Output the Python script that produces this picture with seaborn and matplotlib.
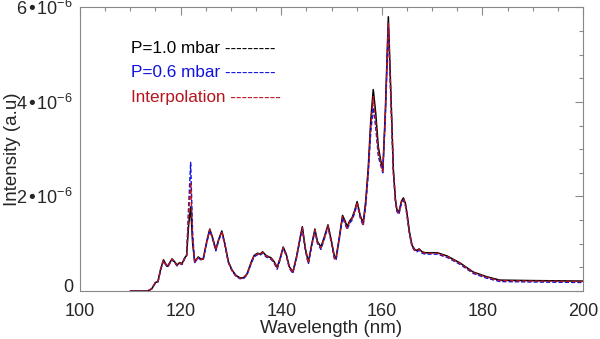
"""
Espectro VUV: intensidad vs longitud de onda para dos presiones
y la interpolación entre ellas.
"""

import matplotlib
matplotlib.use("Agg")
import matplotlib.pyplot as plt
import matplotlib.transforms as mtrans
import seaborn as sns
from matplotlib.ticker import MultipleLocator

# ── Datos (intensidad en unidades de 1e-6) ─────────────────────
wavelength = [
    110.0, 113.5, 114.3, 115.0, 115.5, 116.0, 116.6, 117.0, 117.4, 118.3,
    118.8, 119.3, 119.8, 120.3, 120.8, 121.2, 121.6, 122.0, 122.4, 122.8,
    123.5, 124.0, 124.5, 125.2, 125.8, 126.3, 127.0, 127.6, 128.2, 128.8,
    129.5, 130.2, 131.0, 131.8, 132.5, 133.2, 134.0, 134.6, 135.3, 135.8,
    136.3, 137.0, 138.0, 138.6, 139.2, 139.8, 140.4, 141.0, 141.6, 142.3,
    143.0, 143.8, 144.2, 144.8, 145.4, 146.0, 146.7, 147.2, 147.9, 148.6,
    149.3, 150.0, 150.6, 150.9, 151.5, 152.2, 152.7, 153.1, 153.6, 154.1,
    154.6, 155.1, 155.7, 156.3, 156.8, 157.3, 157.8, 158.3, 158.8, 159.3,
    159.8, 160.2, 160.7, 161.3, 161.8, 162.3, 162.7, 163.0, 163.4, 163.9,
    164.3, 164.7, 165.0, 165.5, 166.0, 166.6, 167.0, 167.4, 168.0, 168.6,
    171.0, 173.0, 175.6, 178.2, 180.9, 183.5, 190.0, 200.0,
]

p10_mbar = [
    0.00, 0.00, 0.05, 0.18, 0.20, 0.45, 0.66, 0.58, 0.52, 0.68,
    0.62, 0.55, 0.60, 0.58, 0.70, 0.75, 1.40, 1.78, 1.00, 0.62,
    0.72, 0.68, 0.68, 1.05, 1.31, 1.15, 0.88, 1.10, 1.27, 1.00,
    0.62, 0.45, 0.33, 0.28, 0.28, 0.36, 0.60, 0.75, 0.80, 0.78,
    0.83, 0.75, 0.70, 0.62, 0.50, 0.70, 0.93, 0.78, 0.52, 0.40,
    0.70, 1.15, 1.36, 0.90, 0.61, 0.95, 1.31, 1.05, 0.93, 1.15,
    1.40, 1.05, 0.72, 0.70, 1.10, 1.60, 1.48, 1.36, 1.48, 1.55,
    1.70, 1.89, 1.60, 1.44, 1.90, 2.60, 3.60, 4.26, 3.75, 3.05,
    2.75, 2.55, 3.80, 5.80, 4.20, 2.56, 1.95, 1.72, 1.67, 1.90,
    1.97, 1.85, 1.65, 1.25, 0.97, 0.87, 0.86, 0.89, 0.83, 0.81,
    0.81, 0.74, 0.59, 0.40, 0.30, 0.23, 0.22, 0.21,
]

p06_mbar = [
    0.00, 0.00, 0.05, 0.17, 0.19, 0.43, 0.64, 0.56, 0.50, 0.66,
    0.60, 0.53, 0.58, 0.56, 0.68, 0.76, 1.80, 2.72, 1.20, 0.60,
    0.70, 0.66, 0.66, 1.02, 1.28, 1.12, 0.85, 1.07, 1.24, 0.97,
    0.60, 0.43, 0.31, 0.26, 0.26, 0.34, 0.57, 0.72, 0.77, 0.76,
    0.80, 0.72, 0.67, 0.59, 0.46, 0.67, 0.90, 0.75, 0.49, 0.37,
    0.67, 1.12, 1.32, 0.86, 0.57, 0.91, 1.27, 1.01, 0.88, 1.11,
    1.36, 1.00, 0.67, 0.65, 1.05, 1.55, 1.42, 1.30, 1.43, 1.50,
    1.65, 1.84, 1.55, 1.38, 1.80, 2.45, 3.35, 3.88, 3.45, 2.85,
    2.65, 2.50, 3.65, 5.58, 4.05, 2.50, 1.90, 1.68, 1.62, 1.85,
    1.92, 1.80, 1.60, 1.20, 0.94, 0.84, 0.83, 0.86, 0.80, 0.78,
    0.78, 0.71, 0.56, 0.37, 0.27, 0.20, 0.19, 0.18,
]

interpolation = [
    0.00, 0.00, 0.05, 0.18, 0.20, 0.44, 0.65, 0.57, 0.51, 0.67,
    0.61, 0.54, 0.59, 0.57, 0.69, 0.75, 1.60, 2.30, 1.10, 0.61,
    0.71, 0.67, 0.67, 1.04, 1.30, 1.14, 0.87, 1.09, 1.26, 0.99,
    0.61, 0.44, 0.32, 0.27, 0.27, 0.35, 0.59, 0.74, 0.79, 0.77,
    0.82, 0.74, 0.69, 0.61, 0.48, 0.69, 0.92, 0.77, 0.51, 0.39,
    0.69, 1.14, 1.34, 0.88, 0.59, 0.93, 1.29, 1.03, 0.91, 1.13,
    1.38, 1.03, 0.70, 0.68, 1.08, 1.58, 1.45, 1.33, 1.46, 1.53,
    1.68, 1.87, 1.58, 1.41, 1.85, 2.53, 3.48, 4.11, 3.60, 2.95,
    2.70, 2.53, 3.72, 5.68, 4.12, 2.53, 1.93, 1.70, 1.65, 1.88,
    1.95, 1.83, 1.63, 1.23, 0.96, 0.86, 0.85, 0.88, 0.82, 0.80,
    0.80, 0.73, 0.58, 0.39, 0.29, 0.22, 0.21, 0.20,
]

y_ticks = [0, 2, 4, 6]
y_ticklabels = ["0", "2•10$^{-6}$", "4•10$^{-6}$", "6•10$^{-6}$"]
x_ticks = [100, 120, 140, 160, 180, 200]

legend_labels = ["P=1.0 mbar ---------", "P=0.6 mbar ---------", "Interpolation ---------"]

BLACK = "black"
BLUE = "#1010e0"
RED = "#b8141e"

# ── Estilo ─────────────────────────────────────────────────────
sns.set_style("white")
plt.rcParams["font.family"] = ["Liberation Sans", "DejaVu Sans"]
plt.rcParams["mathtext.default"] = "regular"

fig = plt.figure(figsize=(6.0, 3.39), dpi=100)
ax = fig.add_axes([0.1333, 0.1416, 0.8384, 0.8368])

sns.lineplot(x=wavelength, y=p10_mbar, color=BLACK, lw=1.1, sort=False,
             estimator=None, ax=ax)
sns.lineplot(x=wavelength, y=p06_mbar, color=BLUE, lw=1.0, sort=False,
             estimator=None, ax=ax, linestyle=(0, (3, 1.5)))
sns.lineplot(x=wavelength, y=interpolation, color=RED, lw=1.0, sort=False,
             estimator=None, ax=ax, linestyle=(0, (3, 1.5)))

# Leyenda como texto
for label, col, yy in zip(legend_labels, [BLACK, BLUE, RED], [5.12, 4.63, 4.10]):
    ax.text(110.1, yy, label, color=col, fontsize=12.3, va="center", ha="left")

ax.set_xlim(100, 200)
ax.set_ylim(0, 6)
ax.set_xticks(x_ticks)
ax.set_yticks(y_ticks)
ax.set_yticklabels(y_ticklabels)
ax.xaxis.set_minor_locator(MultipleLocator(5))
ax.yaxis.set_minor_locator(MultipleLocator(0.5))

ax.tick_params(which="both", direction="in", top=True, right=True,
               color="#888888", labelsize=13, width=0.8)
ax.tick_params(which="major", length=6)
ax.tick_params(axis="x", which="major", pad=9)
ax.tick_params(axis="y", which="major", pad=5)
ax.tick_params(which="minor", length=3)
for s in ax.spines.values():
    s.set_color("#888888")
    s.set_linewidth(0.8)

# el "0" queda un poco por encima del eje, como en el original
zero_lbl = ax.get_yticklabels()[0]
zero_lbl.set_transform(zero_lbl.get_transform()
                       + mtrans.ScaledTranslation(0, 4 / 72, fig.dpi_scale_trans))

ax.set_xlabel("Wavelength (nm)", fontsize=13.5, labelpad=0)
ax.set_ylabel("Intensity (a.u)", fontsize=13.5)
ax.yaxis.set_label_coords(-0.118, 0.5)

fig.savefig("out.png", dpi=100)
plt.close(fig)
